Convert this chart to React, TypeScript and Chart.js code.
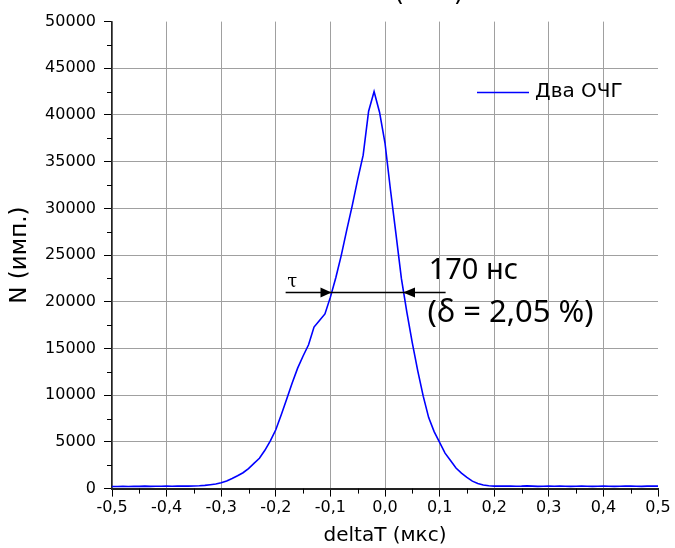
import React, { useEffect, useRef } from "react";
import { Chart, registerables } from "chart.js";
Chart.register(...registerables);

const xValues = [
  -0.5, -0.49, -0.48, -0.47, -0.46, -0.45, -0.44, -0.43, -0.42, -0.41,
  -0.4, -0.39, -0.38, -0.37, -0.36, -0.35, -0.34, -0.33, -0.32, -0.31,
  -0.3, -0.29, -0.28, -0.27, -0.26, -0.25, -0.24, -0.23, -0.22, -0.21,
  -0.2, -0.19, -0.18, -0.17, -0.16, -0.15, -0.14, -0.13, -0.12, -0.11,
  -0.1, -0.09, -0.08, -0.07, -0.06, -0.05, -0.04, -0.03, -0.02, -0.01,
  0.0, 0.01, 0.02, 0.03, 0.04, 0.05, 0.06, 0.07, 0.08, 0.09,
  0.1, 0.11, 0.12, 0.13, 0.14, 0.15, 0.16, 0.17, 0.18, 0.19,
  0.2, 0.21, 0.22, 0.23, 0.24, 0.25, 0.26, 0.27, 0.28, 0.29,
  0.3, 0.31, 0.32, 0.33, 0.34, 0.35, 0.36, 0.37, 0.38, 0.39,
  0.4, 0.41, 0.42, 0.43, 0.44, 0.45, 0.46, 0.47, 0.48, 0.49, 0.5,
];

const nValues = [
  220, 230, 240, 230, 250, 240, 260, 240, 250, 250,
  260, 250, 260, 260, 270, 280, 300, 350, 420, 500,
  620, 820, 1080, 1380, 1700, 2150, 2700, 3250, 4100, 5100,
  6300, 7900, 9600, 11300, 12900, 14200, 15400, 17300, 18000, 18700,
  20500, 22600, 25000, 27700, 30300, 33100, 35700, 40400, 42500, 40300,
  37000, 32000, 27300, 22500, 18900, 15600, 12600, 9900, 7600, 6100,
  4950, 3800, 3000, 2200, 1650, 1200, 800, 550, 380, 300,
  270, 260, 280, 270, 250, 260, 290, 260, 240, 250,
  260, 250, 260, 250, 240, 250, 260, 250, 240, 250,
  260, 250, 240, 250, 260, 270, 250, 240, 260, 270, 260,
];

const xMinorTicks = [-0.45, -0.35, -0.25, -0.15, -0.05, 0.05, 0.15, 0.25, 0.35, 0.45];
const yMinorTicks = [2500, 7500, 12500, 17500, 22500, 27500, 32500, 37500, 42500, 47500];

const seriesLabel = "Два ОЧГ";
const xTitle = "deltaT (мкс)";
const yTitle = "N (имп.)";
const topTitle = "(мкс)";

const fwhmLevel = 21000;
const fwhmLineFrom = -0.182;
const fwhmLineTo = 0.111;
const fwhmLeftEdge = -0.098;
const fwhmRightEdge = 0.033;
const tauLabel = "τ";
const fwhmText = "170 нс";
const deltaText = "(δ = 2,05 %)";

const BLUE = "#0000ff";
const GRID = "#a0a0a0";
const TICK_FONT = "DejaVu Sans";

const overlayPlugin = {
  id: "overlay",
  afterDraw(chart: any) {
    const { ctx, chartArea } = chart;
    const x = chart.scales.x;
    const y = chart.scales.y;
    ctx.save();
    // minor ticks
    ctx.strokeStyle = "#000";
    ctx.lineWidth = 1;
    xMinorTicks.forEach((v) => {
      const px = Math.round(x.getPixelForValue(v)) + 0.5;
      ctx.beginPath();
      ctx.moveTo(px, chartArea.bottom);
      ctx.lineTo(px, chartArea.bottom + 5);
      ctx.stroke();
    });
    yMinorTicks.forEach((v) => {
      const py = Math.round(y.getPixelForValue(v)) + 0.5;
      ctx.beginPath();
      ctx.moveTo(chartArea.left - 5, py);
      ctx.lineTo(chartArea.left, py);
      ctx.stroke();
    });

    // FWHM arrow
    const ay = y.getPixelForValue(fwhmLevel);
    ctx.strokeStyle = "#000";
    ctx.fillStyle = "#000";
    ctx.lineWidth = 1.5;
    ctx.beginPath();
    ctx.moveTo(x.getPixelForValue(fwhmLineFrom), ay);
    ctx.lineTo(x.getPixelForValue(fwhmLineTo), ay);
    ctx.stroke();
    const lt = x.getPixelForValue(fwhmLeftEdge);
    ctx.beginPath();
    ctx.moveTo(lt, ay);
    ctx.lineTo(lt - 11, ay - 5);
    ctx.lineTo(lt - 11, ay + 5);
    ctx.closePath();
    ctx.fill();
    const rt = x.getPixelForValue(fwhmRightEdge);
    ctx.beginPath();
    ctx.moveTo(rt, ay);
    ctx.lineTo(rt + 12, ay - 5);
    ctx.lineTo(rt + 12, ay + 5);
    ctx.closePath();
    ctx.fill();

    // tau
    ctx.font = "18px 'DejaVu Serif'";
    ctx.textAlign = "center";
    ctx.textBaseline = "middle";
    ctx.fillText(tauLabel, x.getPixelForValue(-0.17), y.getPixelForValue(22100));

    // FWHM texts
    ctx.textAlign = "left";
    ctx.textBaseline = "alphabetic";
    ctx.font = "29px 'Noto Sans'";
    ctx.fillText(fwhmText, x.getPixelForValue(0.08), y.getPixelForValue(22400));
    ctx.font = "31px 'Noto Sans'";
    ctx.fillText(deltaText, x.getPixelForValue(0.078), y.getPixelForValue(17800));

    // legend
    ctx.strokeStyle = BLUE;
    ctx.lineWidth = 1.5;
    ctx.beginPath();
    ctx.moveTo(477, 92.5);
    ctx.lineTo(529, 92.5);
    ctx.stroke();
    ctx.fillStyle = "#000";
    ctx.font = `20px '${TICK_FONT}'`;
    ctx.textBaseline = "middle";
    ctx.fillText(seriesLabel, 535, 92);

    // clipped title at the very top
    ctx.font = `26px '${TICK_FONT}'`;
    ctx.textBaseline = "alphabetic";
    ctx.fillText(topTitle, 394, -0.5);
    ctx.restore();
  },
};

export default function App() {
  const ref = useRef<HTMLCanvasElement>(null);
  useEffect(() => {
    if (!ref.current) return;
    const chart = new Chart(ref.current, {
      type: "line",
      data: {
        datasets: [
          {
            label: seriesLabel,
            data: xValues.map((v, i) => ({ x: v, y: nValues[i] })),
            borderColor: BLUE,
            backgroundColor: BLUE,
            borderWidth: 1.6,
            pointRadius: 0,
            tension: 0,
            fill: false,
          },
        ],
      },
      options: {
        responsive: false,
        animation: false,
        events: [],
        layout: { padding: { top: 21.6, right: 17, bottom: 0, left: 0 } },
        plugins: {
          legend: { display: false },
          tooltip: { enabled: false },
          title: { display: false },
        },
        scales: {
          x: {
            type: "linear",
            min: -0.5,
            max: 0.5,
            afterFit: (s: any) => {
              s.height = 59.4;
            },
            ticks: {
              stepSize: 0.1,
              padding: 2,
              color: "#000",
              font: { family: TICK_FONT, size: 16 },
              maxRotation: 0,
              autoSkip: false,
              callback: (v: any) => Number(v).toFixed(1).replace(".", ","),
            },
            grid: {
              color: (c: any) =>
                c.tick && Math.abs(c.tick.value - 0.5) < 1e-6 ? "rgba(0,0,0,0)" : GRID,
              lineWidth: 1,
              tickColor: "#000",
              tickLength: 8,
            },
            border: { color: "#222", width: 2 },
            title: {
              display: true,
              text: xTitle,
              color: "#000",
              font: { family: TICK_FONT, size: 20 },
              padding: { top: 0, bottom: 0 },
            },
          },
          y: {
            type: "linear",
            min: 0,
            max: 50000,
            afterFit: (s: any) => {
              s.width = 112;
            },
            ticks: {
              stepSize: 5000,
              padding: 8,
              color: "#000",
              font: { family: TICK_FONT, size: 16 },
              callback: (v: any) => String(v),
            },
            grid: {
              color: (c: any) =>
                c.tick && c.tick.value >= 50000 ? "rgba(0,0,0,0)" : GRID,
              lineWidth: 1,
              tickColor: "#000",
              tickLength: 8,
            },
            border: { color: "#222", width: 1.5 },
            title: {
              display: true,
              text: yTitle,
              color: "#000",
              font: { family: TICK_FONT, size: 23 },
              padding: { top: 6, bottom: 0 },
            },
          },
        },
      },
      plugins: [overlayPlugin],
    });
    return () => chart.destroy();
  }, []);
  return (
    <div style={{ position: "absolute", left: 0, top: 0, width: 675, height: 548, background: "#fff" }}>
      <canvas ref={ref} width={675} height={548} style={{ display: "block" }} />
    </div>
  );
}
